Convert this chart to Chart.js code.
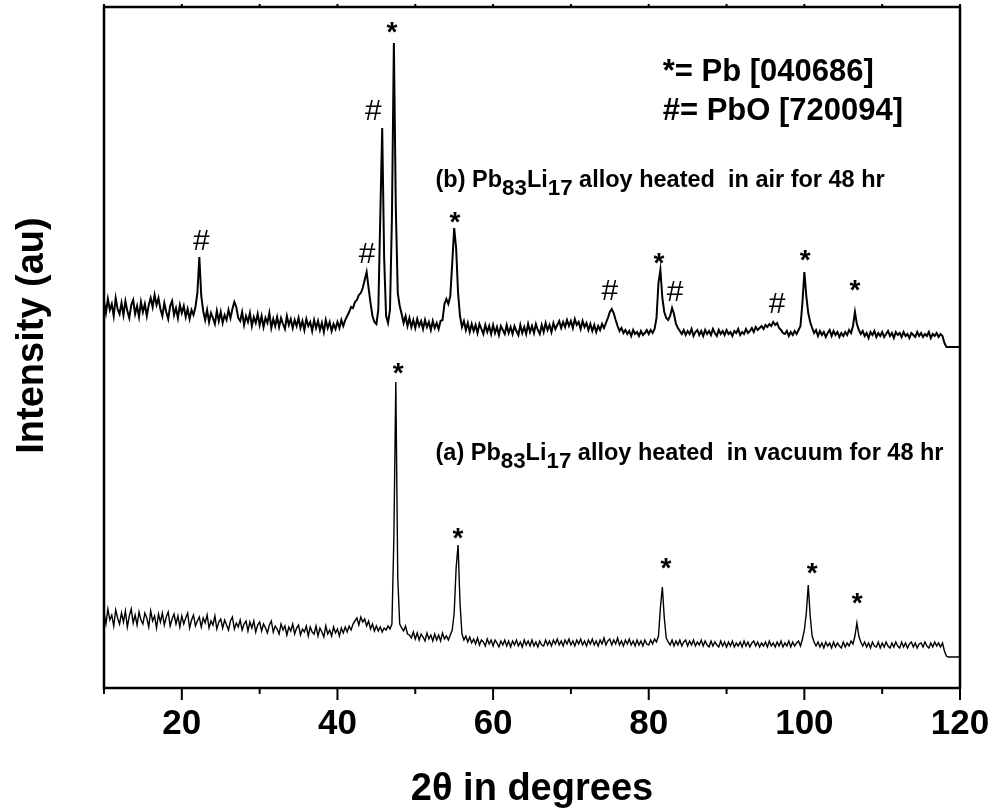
<!DOCTYPE html>
<html>
<head>
<meta charset="utf-8">
<script src="https://cdn.jsdelivr.net/npm/chart.js@4.4.0/dist/chart.umd.min.js"></script>
<style>
  html, body { margin: 0; padding: 0; background: #fff; }
</style>
</head>
<body>
<canvas id="xrdChart" width="991" height="811"></canvas>
<script>
// diffractometer scan: 10 to 120 deg 2-theta in 0.25 deg steps
var scanStart = 10, scanStep = 0.25;

// Pb83Li17 heated in air, intensity (au), one row = 2.5 deg
var airCounts = [
  386,375,389,378,384,372,390,379,374,385,   // 10.0
  373,387,377,370,383,388,374,382,371,386,   // 12.5
  376,384,372,383,390,381,393,383,390,379,   // 15.0
  372,385,376,369,382,387,373,380,370,383,   // 17.5
  375,382,371,379,369,378,373,381,395,431,   // 20.0
  392,377,368,378,366,375,370,364,377,367,   // 22.5
  376,365,373,368,378,370,379,386,381,370,   // 25.0
  367,376,363,372,366,375,362,371,365,374,   // 27.5
  363,372,361,370,365,375,360,369,362,371,   // 30.0
  361,370,364,359,372,363,369,360,368,362,   // 32.5
  370,360,367,358,369,362,366,357,368,360,   // 35.0
  367,358,365,356,368,360,366,357,364,359,   // 37.5
  366,360,368,362,368,372,376,381,380,386,   // 40.0
  388,393,395,400,408,416,400,385,372,366,   // 42.5
  364,378,470,560,430,372,365,378,470,645,   // 45.0
  480,395,382,374,365,372,362,370,361,368,   // 47.5
  360,369,362,367,359,368,361,366,358,367,   // 50.0
  360,365,359,367,368,384,389,384,392,425,   // 52.5
  460,440,395,372,361,367,358,365,356,364,   // 55.0
  357,363,355,364,359,354,363,356,362,354,   // 57.5
  363,355,361,353,362,358,354,363,355,361,   // 60.0
  354,362,357,353,363,355,361,354,364,356,   // 62.5
  362,355,364,358,354,363,356,365,358,363,   // 65.0
  356,365,359,363,367,360,366,361,368,362,   // 67.5
  367,360,369,363,366,359,367,361,365,358,   // 70.0
  364,357,363,356,362,358,364,360,365,370,   // 72.5
  376,379,375,368,362,357,360,355,358,354,   // 75.0
  357,352,358,354,356,352,357,353,355,358,   // 77.5
  354,358,355,359,370,405,418,390,376,370,   // 80.0
  368,372,380,374,364,360,357,354,358,353,   // 82.5
  357,354,359,352,356,358,353,357,352,358,   // 85.0
  354,357,353,359,355,352,358,354,357,353,   // 87.5
  358,354,356,352,357,355,359,353,356,354,   // 90.0
  359,355,357,360,356,361,358,360,362,359,   // 92.5
  363,361,364,362,366,363,365,360,358,355,   // 95.0
  354,357,352,356,353,357,354,358,362,385,   // 97.5
  416,392,375,366,360,355,358,352,357,353,   // 100.0
  356,351,355,358,352,357,353,356,351,355,   // 102.5
  352,356,353,358,355,362,376,364,358,354,   // 105.0
  357,352,355,350,356,353,357,351,355,352,   // 107.5
  356,351,354,357,352,355,350,356,353,355,   // 110.0
  351,356,352,354,350,355,353,351,356,352,   // 112.5
  355,351,354,352,356,350,354,352,355,351,   // 115.0
  354,352,345,341,341,341,341,341,341,341,   // 117.5
  341                                        // 120.0
];

// Pb83Li17 heated in vacuum, intensity (au)
var vacuumCounts = [
  76,64,79,68,73,62,78,70,64,75,   // 10.0
  66,77,61,72,79,65,73,63,76,68,   // 12.5
  64,75,70,61,77,67,72,60,74,66,   // 15.0
  75,63,71,76,62,69,74,64,72,61,   // 17.5
  72,64,70,75,60,68,73,62,67,71,   // 20.0
  61,70,65,73,60,67,63,72,59,66,   // 22.5
  69,60,68,63,58,67,71,59,65,61,   // 25.0
  68,58,64,67,57,66,60,67,56,63,   // 27.5
  66,57,64,60,55,63,67,56,62,59,   // 30.0
  54,64,58,62,53,61,57,64,54,60,   // 32.5
  63,53,59,56,62,52,61,56,54,62,   // 35.0
  52,60,56,51,62,54,58,52,61,55,   // 37.5
  59,52,60,55,61,56,62,58,64,67,   // 40.0
  70,63,71,66,69,62,67,59,64,57,   // 42.5
  62,57,61,56,60,58,62,59,64,150,  // 45.0
  306,110,64,60,57,62,54,53,50,56, // 47.5
  49,55,48,54,51,47,55,49,53,47,   // 50.0
  54,48,53,47,55,49,52,48,53,58,   // 52.5
  75,120,143,85,54,48,52,46,51,45, // 55.0
  49,44,50,43,48,46,42,49,44,48,   // 57.5
  42,48,45,41,47,43,48,42,47,41,   // 60.0
  47,43,48,42,46,41,48,43,47,42,   // 62.5
  48,42,46,41,47,43,42,48,43,47,   // 65.0
  42,48,44,49,43,47,42,48,44,49,   // 67.5
  43,47,42,48,44,49,43,47,42,48,   // 70.0
  44,49,43,47,42,48,44,50,43,47,   // 72.5
  49,43,48,44,50,43,47,42,48,44,   // 75.0
  49,43,47,42,48,43,47,42,48,44,   // 77.5
  43,48,44,49,46,52,80,101,70,50,  // 80.0
  46,43,48,42,47,43,48,42,46,48,   // 82.5
  42,47,43,48,42,46,43,48,42,47,   // 85.0
  43,41,47,42,46,43,41,47,42,46,   // 87.5
  41,46,42,47,41,45,42,46,41,47,   // 90.0
  42,46,41,45,47,42,46,41,45,42,   // 92.5
  46,41,47,42,45,41,46,42,47,41,   // 95.0
  45,42,47,41,46,42,45,47,42,49,   // 97.5
  58,75,103,72,52,46,42,46,41,45,  // 100.0
  40,46,42,45,40,46,41,45,42,40,   // 102.5
  46,41,45,42,47,44,52,65,52,46,   // 105.0
  42,46,41,45,40,46,42,41,46,40,   // 107.5
  45,41,46,42,40,45,41,46,42,40,   // 110.0
  46,41,45,40,44,46,41,45,40,44,   // 112.5
  45,41,46,42,40,45,41,46,42,45,   // 115.0
  41,45,37,32,31,31,31,31,31,31,   // 117.5
  31                               // 120.0
];

// phase marks: [2theta, intensity, symbol]
var airMarks = [
  [22.5,446,'#'],[43.8,433,'#'],[44.6,576,'#'],[47.0,661,'*'],[55.1,471,'*'],[75.0,396,'#'],
  [81.3,430,'*'],[83.4,395,'#'],[96.5,383,'#'],[100.1,433,'*'],[106.5,403,'*']
];
var vacuumMarks = [
  [47.8,320,'*'],[55.5,155,'*'],[82.2,125,'*'],[101.0,120,'*'],[106.8,90,'*']
];

var legendLines = ['*= Pb [040686]', '#= PbO [720094]'];
var sampleLabels = [
  '(b) Pb_{83}Li_{17} alloy heated  in air for 48 hr',
  '(a) Pb_{83}Li_{17} alloy heated  in vacuum for 48 hr'
];

var FONT = '"Liberation Sans", Arial, Helvetica, sans-serif';

function toPoints(counts) {
  return counts.map(function (c, i) { return { x: scanStart + i * scanStep, y: c }; });
}

// draws "Pb_{83}" style text with subscripts, left aligned
function drawSubText(ctx, str, x, y, size) {
  var parts = str.split(/(_\{[^}]*\})/);
  parts.forEach(function (part) {
    if (!part) return;
    var sub = part.charAt(0) === '_';
    var txt = sub ? part.slice(2, -1) : part;
    ctx.font = 'bold ' + (sub ? size * 0.95 : size) + 'px ' + FONT;
    ctx.fillText(txt, x, sub ? y + 8 : y);
    x += ctx.measureText(txt).width;
  });
}

var framePlugin = {
  id: 'frame',
  afterDatasetsDraw: function (chart) {
    var ctx = chart.ctx, a = chart.chartArea, xs = chart.scales.x;
    ctx.save();
    ctx.strokeStyle = '#000';
    ctx.lineWidth = 2.5;
    ctx.strokeRect(a.left, a.top, a.right - a.left, a.bottom - a.top);
    ctx.lineWidth = 2;
    xs.ticks.forEach(function (t) {
      var px = xs.getPixelForValue(t.value);
      var len = t.value % 20 === 0 ? 12 : 6;
      ctx.beginPath();
      ctx.moveTo(px, a.bottom);
      ctx.lineTo(px, a.bottom + len);
      ctx.moveTo(px, a.top);
      ctx.lineTo(px, a.top - 3);
      ctx.stroke();
    });
    ctx.restore();
  }
};

var labelPlugin = {
  id: 'labels',
  afterDraw: function (chart) {
    var ctx = chart.ctx, xs = chart.scales.x, ys = chart.scales.y, a = chart.chartArea;
    ctx.save();
    ctx.fillStyle = '#000';
    ctx.textAlign = 'center';
    ctx.textBaseline = 'middle';

    airMarks.concat(vacuumMarks).forEach(function (m) {
      var px = xs.getPixelForValue(m[0]), py = ys.getPixelForValue(m[1]);
      if (m[2] === '*') {
        ctx.font = 'bold 28px ' + FONT;
        ctx.fillText('*', px, py + 6);
      } else {
        ctx.font = '30px ' + FONT;
        ctx.fillText('#', px, py);
      }
    });

    // phase key
    ctx.textAlign = 'left';
    ctx.font = 'bold 31px ' + FONT;
    ctx.fillText(legendLines[0], xs.getPixelForValue(81.8), ys.getPixelForValue(616));
    ctx.fillText(legendLines[1], xs.getPixelForValue(81.8), ys.getPixelForValue(577));

    // sample labels
    drawSubText(ctx, sampleLabels[0], xs.getPixelForValue(52.6), ys.getPixelForValue(507), 23.5);
    drawSubText(ctx, sampleLabels[1], xs.getPixelForValue(52.6), ys.getPixelForValue(234), 23.5);

    // axis titles
    ctx.textAlign = 'center';
    ctx.font = 'bold 38px ' + FONT;
    ctx.fillText('2\u03b8 in degrees', (a.left + a.right) / 2, 790);
    ctx.translate(33, (a.top + a.bottom) / 2 - 12);
    ctx.rotate(-Math.PI / 2);
    ctx.fillText('Intensity (au)', 0, 0);
    ctx.restore();
  }
};

var ctx = document.getElementById('xrdChart');
var xrdChart = new Chart(ctx, {
  type: 'scatter',
  data: {
    datasets: [
      {
        label: 'Pb83Li17 heated in air 48 hr',
        data: toPoints(airCounts),
        showLine: true,
        borderColor: '#000',
        borderWidth: 2,
        pointRadius: 0,
        tension: 0
      },
      {
        label: 'Pb83Li17 heated in vacuum 48 hr',
        data: toPoints(vacuumCounts),
        showLine: true,
        borderColor: '#000',
        borderWidth: 1.4,
        pointRadius: 0,
        tension: 0
      }
    ]
  },
  options: {
    responsive: false,
    animation: false,
    layout: { padding: { top: 7, right: 31, left: 0, bottom: 0 } },
    plugins: {
      legend: { display: false },
      tooltip: { enabled: false }
    },
    scales: {
      x: {
        type: 'linear',
        min: 10,
        max: 120,
        ticks: {
          stepSize: 10,
          autoSkip: false,
          maxRotation: 0,
          padding: 15,
          color: '#000',
          font: { family: FONT, size: 35, weight: 'bold', lineHeight: 1.2 },
          callback: function (v) { return v % 20 === 0 ? v : ''; }
        },
        grid: { display: false, drawTicks: false },
        border: { display: false },
        afterFit: function (s) { s.height = 123; s.paddingLeft = 0; s.paddingRight = 0; }
      },
      y: {
        min: 0,
        max: 681,
        ticks: { display: false },
        grid: { display: false, drawTicks: false },
        border: { display: false },
        afterFit: function (s) { s.width = 104; s.paddingTop = 0; s.paddingBottom = 0; }
      }
    }
  },
  plugins: [framePlugin, labelPlugin]
});
</script>
</body>
</html>
